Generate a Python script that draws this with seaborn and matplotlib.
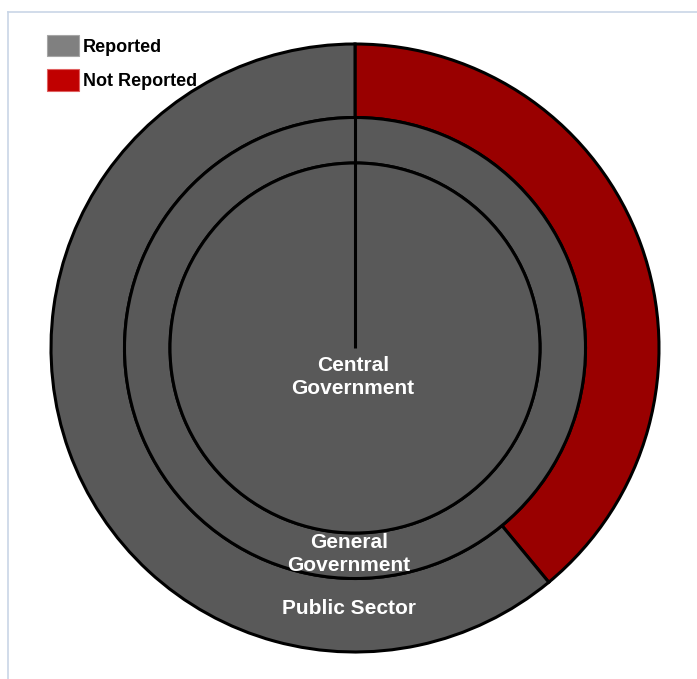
import matplotlib
matplotlib.use("Agg")
import matplotlib.pyplot as plt
from matplotlib.patches import Patch
import seaborn as sns

# Reporting coverage by level of government (percent of units)
statuses = ["Not Reported", "Reported"]
central_government = [0, 100]
general_government = [0, 100]
public_sector = [39, 61]
ring_names = ["Central\nGovernment", "General\nGovernment", "Public Sector"]

sns.set_theme(style="white")
plt.rcParams["font.family"] = ["Liberation Sans", "DejaVu Sans"]

W, H = 697, 679
fig = plt.figure(figsize=(W / 100, H / 100), dpi=100)
fig.patch.set_facecolor("white")

# Axes in pixel units; only the left and top frame lines fall inside the canvas
ax = fig.add_axes([8 / W, -10 / H, 1.0, (H - 12 + 10) / H])


def pixel_frame():
    ax.set_xlim(8, 8 + W)
    ax.set_ylim(-10, H - 12)
    ax.set_xticks([])
    ax.set_yticks([])
    ax.set_aspect("auto")


pixel_frame()
for side in ("right", "bottom"):
    ax.spines[side].set_visible(False)
for side in ("left", "top"):
    ax.spines[side].set_color("#c9d5e6")
    ax.spines[side].set_linewidth(1.2)

ring_colors = ["#990000", "#595959"]
edge = dict(edgecolor="black", linewidth=2.2)
cx, cy = 355, H - 348
r_inner, r_mid, r_outer = 185, 230.5, 304
start = 90

ax.pie(public_sector, radius=r_outer, center=(cx, cy), colors=ring_colors,
       startangle=start, counterclock=False, frame=True,
       wedgeprops=dict(width=r_outer - r_mid, **edge))
ax.pie(general_government, radius=r_mid, center=(cx, cy), colors=ring_colors,
       startangle=start, counterclock=False, frame=True,
       wedgeprops=dict(width=r_mid - r_inner, **edge))
ax.pie(central_government, radius=r_inner, center=(cx, cy), colors=ring_colors,
       startangle=start, counterclock=False, frame=True,
       wedgeprops=dict(**edge))

# Shared slice boundary at the start angle, through the two inner levels
ax.plot([cx, cx], [cy, cy + r_mid], color="black", linewidth=2.2,
        solid_capstyle="butt", zorder=5)

# pie() resets limits and ticks when frame=True, so restore the pixel frame
pixel_frame()

label_style = dict(color="white", fontsize=15, fontweight="bold",
                   ha="center", va="center", linespacing=1.27, zorder=6)
ax.text(cx - 2, cy - 29, ring_names[0], **label_style)
ax.text(cx - 6, cy - 206, ring_names[1], **label_style)
ax.text(cx - 6, cy - 260, ring_names[2], **label_style)

handles = [Patch(facecolor="#808080", edgecolor="#a6a6a6", linewidth=0.8),
           Patch(facecolor="#c00000", edgecolor="#e06060", linewidth=0.8)]
fig.legend(handles, statuses[::-1], loc="upper left",
           bbox_to_anchor=(47 / W, 1 - 35 / H), frameon=False,
           prop=dict(weight="bold", size=13), labelcolor="black",
           handlelength=1.78, handleheight=1.45, handletextpad=0.2,
           labelspacing=0.72, borderaxespad=0, borderpad=0)

fig.savefig("out.png", dpi=100, facecolor="white")
